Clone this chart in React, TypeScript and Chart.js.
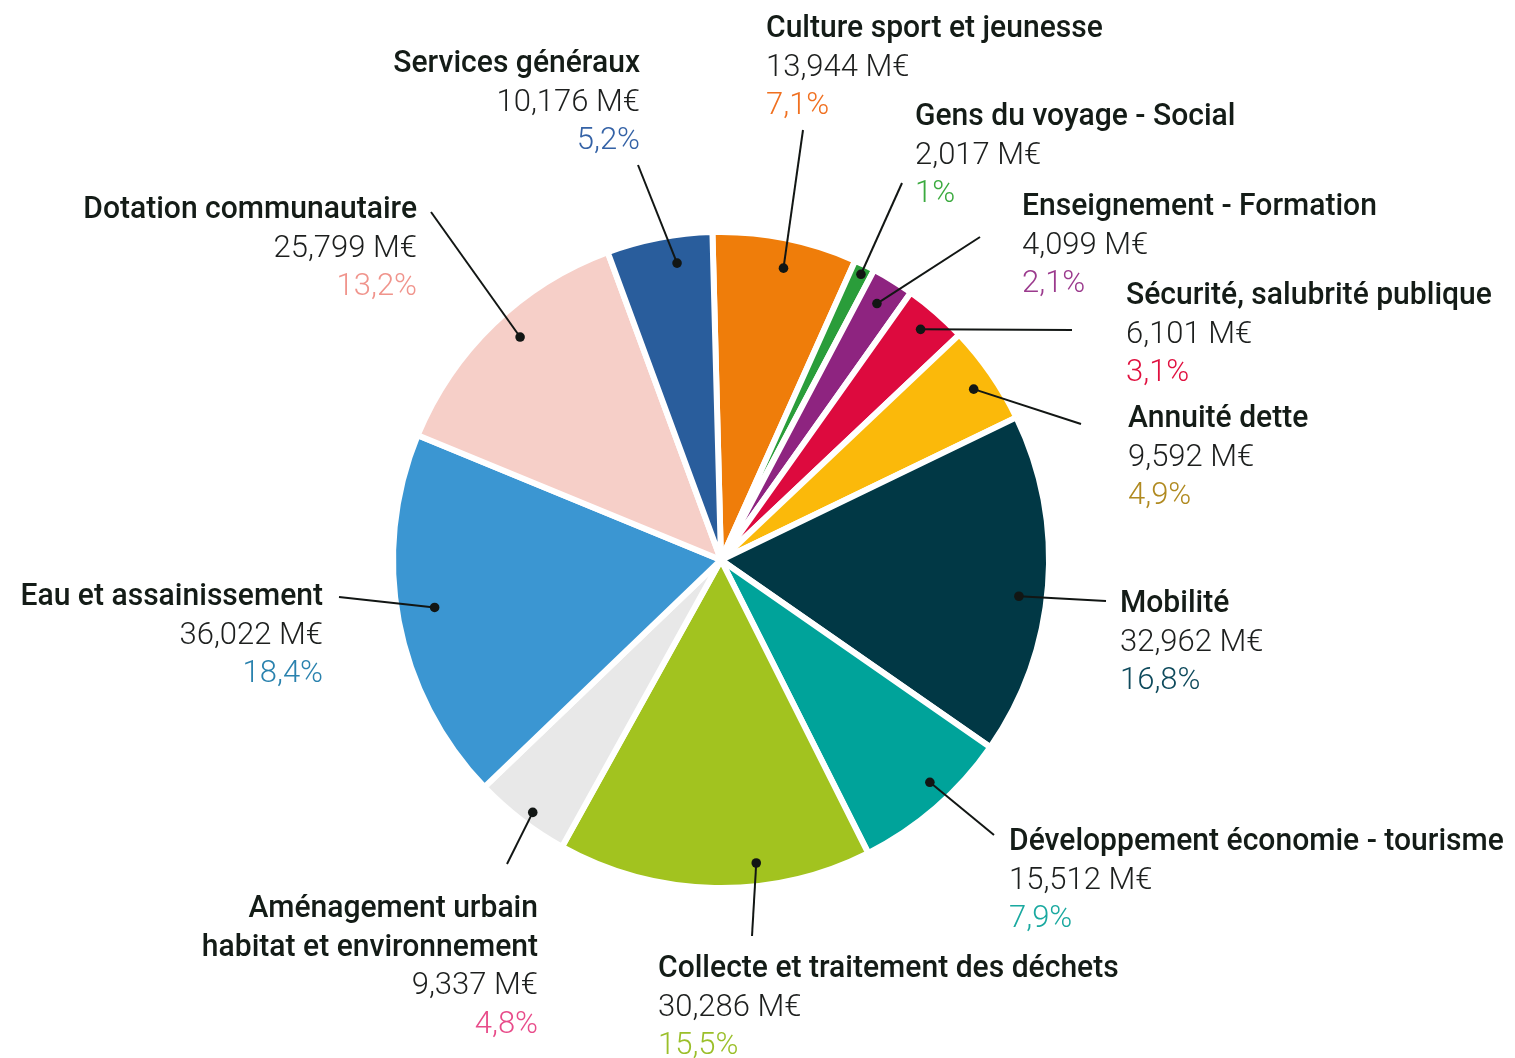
import React, { useEffect, useRef } from 'react';
import { Chart, registerables } from 'chart.js';

Chart.register(...registerables);

// ---- Data (clockwise from the top) ----
const categories = [
  'Culture sport et jeunesse',
  'Gens du voyage - Social',
  'Enseignement - Formation',
  'Sécurité, salubrité publique',
  'Annuité dette',
  'Mobilité',
  'Développement économie - tourisme',
  'Collecte et traitement des déchets',
  'Aménagement urbain habitat et environnement',
  'Eau et assainissement',
  'Dotation communautaire',
  'Services généraux',
];
const titleLines = [
  ['Culture sport et jeunesse'],
  ['Gens du voyage - Social'],
  ['Enseignement - Formation'],
  ['Sécurité, salubrité publique'],
  ['Annuité dette'],
  ['Mobilité'],
  ['Développement économie - tourisme'],
  ['Collecte et traitement des déchets'],
  ['Aménagement urbain', 'habitat et environnement'],
  ['Eau et assainissement'],
  ['Dotation communautaire'],
  ['Services généraux'],
];
const values = [13.944, 2.017, 4.099, 6.101, 9.592, 32.962, 15.512, 30.286, 9.337, 36.022, 25.799, 10.176];
const percentLabels = ['7,1%', '1%', '2,1%', '3,1%', '4,9%', '16,8%', '7,9%', '15,5%', '4,8%', '18,4%', '13,2%', '5,2%'];

// ---- Styles ----
const sliceColors = [
  '#EF7D0A', '#2A9D3A', '#8E2480', '#DD0A3E', '#FBB90A', '#013845',
  '#00A39A', '#A2C31F', '#E8E8E8', '#3B96D2', '#F6CFC8', '#295D9C',
];
const percentColors = [
  '#F07020', '#3BAA3F', '#9B3A8D', '#E0103F', '#B08A20', '#0E4A5C',
  '#1AA9A0', '#9BBF2A', '#E84C8A', '#2A82AE', '#F0948C', '#3462A6',
];

// label layout: dot (fraction along slice, fraction of radius), leader end, text anchor
const labelLayout = [
  { t: 0.53, rf: 0.91, end: [803, 130], x: 766, align: 'left', y: 37 },
  { t: 0.53, rf: 0.97, end: [902, 183], x: 915, align: 'left', y: 125 },
  { t: 0.46, rf: 0.915, end: [980, 237], x: 1022, align: 'left', y: 215 },
  { t: 0.49, rf: 0.93, end: [1072, 330], x: 1126, align: 'left', y: 304 },
  { t: 0.53, rf: 0.93, end: [1081, 424], x: 1128, align: 'left', y: 427 },
  { t: 0.54, rf: 0.915, end: [1106, 601], x: 1120, align: 'left', y: 612 },
  { t: 0.42, rf: 0.93, end: [994, 835], x: 1009, align: 'left', y: 850 },
  { t: 0.36, rf: 0.93, end: [752, 936], x: 658, align: 'left', y: 977 },
  { t: 0.45, rf: 0.96, end: [507, 864], x: 538, align: 'right', y: 917 },
  { t: 0.52, rf: 0.885, end: [339, 597], x: 323, align: 'right', y: 605 },
  { t: 0.54, rf: 0.915, end: [431, 212], x: 417, align: 'right', y: 218 },
  { t: 0.63, rf: 0.915, end: [638, 165], x: 640, align: 'right', y: 72 },
];

const LINE_H = 38.7;
const FONT = 'Roboto, "Open Sans", sans-serif';
const TITLE_SCALE = 0.97;

const formatValue = (v: number) => v.toFixed(3).replace('.', ',') + ' M€';

const labelPlugin = {
  id: 'calloutLabels',
  afterDraw(chart: any) {
    const ctx = chart.ctx;
    const meta = chart.getDatasetMeta(0);
    ctx.save();
    meta.data.forEach((arc: any, i: number) => {
      const lay = labelLayout[i];
      const { x, y, startAngle, endAngle, outerRadius } = arc.getProps(
        ['x', 'y', 'startAngle', 'endAngle', 'outerRadius'],
        true
      );
      const a = startAngle + lay.t * (endAngle - startAngle);
      const dx = x + Math.cos(a) * outerRadius * lay.rf;
      const dy = y + Math.sin(a) * outerRadius * lay.rf;
      // leader line
      ctx.strokeStyle = '#121614';
      ctx.lineWidth = 2;
      ctx.beginPath();
      ctx.moveTo(dx, dy);
      ctx.lineTo(lay.end[0], lay.end[1]);
      ctx.stroke();
      ctx.fillStyle = '#121614';
      ctx.beginPath();
      ctx.arc(dx, dy, 4.8, 0, Math.PI * 2);
      ctx.fill();
      // texts
      ctx.textAlign = lay.align;
      ctx.textBaseline = 'alphabetic';
      let by = lay.y;
      ctx.font = `500 31px ${FONT}`;
      ctx.fillStyle = '#141c17';
      titleLines[i].forEach((ln) => {
        ctx.save();
        ctx.translate(lay.x, by);
        ctx.scale(TITLE_SCALE, 1);
        ctx.fillText(ln, 0, 0);
        ctx.restore();
        by += LINE_H;
      });
      ctx.font = `300 31px ${FONT}`;
      ctx.fillStyle = '#1d1f1e';
      ctx.fillText(formatValue(values[i]), lay.x, by);
      by += LINE_H;
      ctx.fillStyle = percentColors[i];
      ctx.fillText(percentLabels[i], lay.x, by);
    });
    ctx.restore();
  },
};

export default function App() {
  const ref = useRef<HTMLCanvasElement | null>(null);
  useEffect(() => {
    if (!ref.current) return;
    const chart = new Chart(ref.current, {
      type: 'pie',
      data: {
        labels: categories,
        datasets: [
          {
            data: values,
            backgroundColor: sliceColors,
            borderColor: '#ffffff',
            borderWidth: 6,
            borderAlign: 'center',
          },
        ],
      },
      options: {
        responsive: false,
        animation: false,
        devicePixelRatio: 1,
        rotation: -1.5,
        radius: 328,
        layout: { padding: { left: 21, right: 94, top: 62, bottom: 0 } },
        plugins: {
          legend: { display: false },
          tooltip: { enabled: false },
        },
        events: [],
      } as any,
      plugins: [labelPlugin],
    });
    return () => chart.destroy();
  }, []);
  return (
    <div style={{ position: 'absolute', left: 0, top: 0, width: 1515, height: 1058, background: '#fff' }}>
      <canvas ref={ref} width={1515} height={1058} style={{ display: 'block' }} />
    </div>
  );
}
